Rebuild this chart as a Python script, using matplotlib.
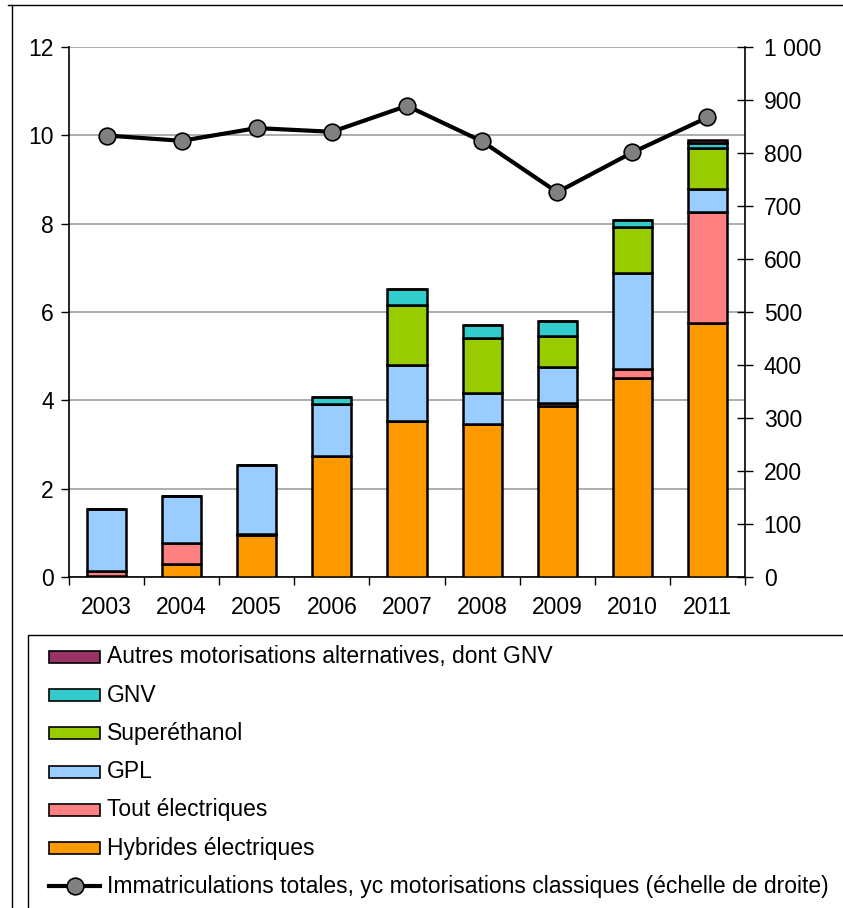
import matplotlib
matplotlib.use("Agg")
import matplotlib.pyplot as plt
import numpy as np
from matplotlib.patches import Rectangle
from matplotlib.lines import Line2D

plt.rcParams['font.family'] = ['Liberation Sans', 'DejaVu Sans']

years = ["2003", "2004", "2005", "2006", "2007", "2008", "2009", "2010", "2011"]

# Immatriculations by motorisation (thousands, left scale)
hybrides = [0.03, 0.29, 0.95, 2.75, 3.54, 3.46, 3.88, 4.50, 5.75]
electriques = [0.10, 0.47, 0.03, 0.00, 0.00, 0.00, 0.05, 0.22, 2.51]
gpl = [1.41, 1.08, 1.56, 1.17, 1.25, 0.71, 0.82, 2.16, 0.53]
superethanol = [0.00, 0.00, 0.00, 0.00, 1.37, 1.25, 0.71, 1.04, 0.92]
gnv = [0.00, 0.00, 0.00, 0.16, 0.35, 0.29, 0.34, 0.16, 0.11]
autres = [0.00, 0.00, 0.00, 0.00, 0.00, 0.00, 0.00, 0.00, 0.08]

# Total registrations incl. conventional engines (thousands, right scale)
totales = [833, 823, 847, 840, 889, 822, 726, 801, 867]

series = [
    ("Hybrides électriques", hybrides, "#FF9900"),
    ("Tout électriques", electriques, "#FF8080"),
    ("GPL", gpl, "#99CCFF"),
    ("Superéthanol", superethanol, "#99CC00"),
    ("GNV", gnv, "#33CCCC"),
    ("Autres motorisations alternatives, dont GNV", autres, "#993366"),
]
line_label = "Immatriculations totales, yc motorisations classiques (échelle de droite)"

FS = 16.5
W, H = 843, 908
fig = plt.figure(figsize=(W / 100, H / 100), dpi=100)

ax = fig.add_axes([69 / W, 1 - 577 / H, (745 - 69) / W, (577 - 47) / H])
x = np.arange(len(years))
bottom = np.zeros(len(years))
for name, vals, col in series:
    v = np.array(vals)
    ax.bar(x, v, width=0.52, bottom=bottom, color=col, edgecolor="black",
           linewidth=1.8, zorder=3)
    bottom += v

ax.set_xlim(-0.5, len(years) - 0.5)
ax.set_ylim(0, 12)
ax.set_yticks(np.arange(0, 13, 2))
ax.yaxis.grid(True, color="#A0A0A0", linewidth=1.2, zorder=0)
ax.set_axisbelow(True)
ax.set_xticks(x)
ax.set_xticklabels(years)
ax.set_xticks(np.arange(-0.5, len(years), 1.0), minor=True)
ax.tick_params(axis="x", which="major", length=0, pad=14, labelsize=FS)
ax.tick_params(axis="x", which="minor", length=6, width=1, direction="out")
ax.tick_params(axis="y", length=6, width=1, direction="out", labelsize=FS, pad=5)
for s in ("top", "right"):
    ax.spines[s].set_visible(False)
for s in ("left", "bottom"):
    ax.spines[s].set_linewidth(1.2)

ax2 = ax.twinx()
ax2.plot(x, totales, color="black", linewidth=3, marker="o", markersize=12,
         markerfacecolor="#808080", markeredgecolor="black", markeredgewidth=1.2,
         zorder=5)
ax2.set_ylim(0, 1000)
ax2.set_yticks(np.arange(0, 1001, 100))
ax2.set_yticklabels([f"{v:,}".replace(",", " ") for v in range(0, 1001, 100)])
ax2.tick_params(axis="y", length=11, width=1, direction="inout", labelsize=FS, pad=8)
for s in ("top", "left", "bottom"):
    ax2.spines[s].set_visible(False)
ax2.spines["right"].set_linewidth(1.2)

# Outer frame of the chart area
fig.add_artist(Line2D([8 / W, 1], [1 - 5 / H, 1 - 5 / H], transform=fig.transFigure,
                      color="black", linewidth=1))
fig.add_artist(Line2D([12 / W, 12 / W], [0, 1 - 5 / H], transform=fig.transFigure,
                      color="black", linewidth=1))

# Legend box
fig.add_artist(Rectangle((28 / W, -0.01), 1.0, 1 - 635 / H + 0.01,
                         transform=fig.transFigure, facecolor="white",
                         edgecolor="black", linewidth=1))
entries = [(n, c) for n, _, c in series[::-1]]
y0, dy = 657, 38.2
for i, (name, col) in enumerate(entries):
    yc = y0 + i * dy
    fig.add_artist(Rectangle((49 / W, 1 - (yc + 6) / H), 51 / W, 12 / H,
                             transform=fig.transFigure, facecolor=col,
                             edgecolor="black", linewidth=1.2))
    fig.text(107 / W, 1 - yc / H, name, fontsize=FS, va="center", ha="left")
yc = y0 + len(entries) * dy
fig.add_artist(Line2D([49 / W, 100 / W], [1 - yc / H, 1 - yc / H],
                      transform=fig.transFigure, color="black", linewidth=3))
fig.add_artist(Line2D([74.5 / W], [1 - yc / H], transform=fig.transFigure,
                      marker="o", markersize=12, markerfacecolor="#808080",
                      markeredgecolor="black", markeredgewidth=1.2))
fig.text(107 / W, 1 - yc / H, line_label, fontsize=FS, va="center", ha="left")

fig.savefig("out.png", dpi=100)
